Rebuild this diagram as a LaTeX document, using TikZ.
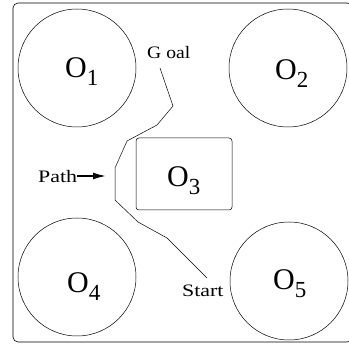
\documentclass[tikz,border=0pt]{standalone}
\usepackage{fontspec}
\setmainfont{Liberation Serif}
\usetikzlibrary{arrows.meta}
\newcommand{\olab}[1]{{\fontsize{30}{30}\selectfont O}\raisebox{-8pt}{\fontsize{23}{23}\selectfont #1}}
\newcommand{\wtxt}[2]{\scalebox{#1}[1]{\fontsize{17.5}{17.5}\selectfont #2}}
\begin{document}
\begin{tikzpicture}[x=1pt,y=-1pt,
  obst/.style={draw, circle, minimum size=118pt, inner sep=0pt, line width=0.5pt},
  olabel/.style={anchor=base west, inner sep=0pt},
  lbl/.style={anchor=base west, inner sep=0pt},
  pathline/.style={line width=0.5pt}]
\useasboundingbox (0,0) rectangle (349,345);
\draw[line width=0.6pt, rounded corners=5pt] (13,3) rectangle (352,342);
\node[obst] (o1) at (77,68) {};
\node[obst] (o2) at (288,68) {};
\node[obst] (o4) at (77,277) {};
\node[obst] (o5) at (289,281) {};
\node[draw, rounded corners=3pt, minimum width=96pt, minimum height=72pt, line width=0.5pt] (o3) at (184,174) {};
\node[olabel] (l1) at (65,78) {\olab{1}};
\node[olabel] (l2) at (275,80) {\olab{2}};
\node[olabel] (l3) at (167,187) {\olab{3}};
\node[olabel] (l4) at (67,293) {\olab{4}};
\node[olabel] (l5) at (273,290) {\olab{5}};
\node[lbl] (goal) at (147,59) {\wtxt{1.12}{G oal}};
\node[lbl] (start) at (182,297) {\wtxt{1.25}{Start}};
\node[lbl] (path) at (38,183) {\wtxt{1.25}{Path}};
\coordinate (pt) at (106,176);
\draw[pathline] (160,68) -- (173,106) -- (157,125) -- (127,141) -- (115,168) -- (115,200) -- (138,222) -- (167,238) -- (207,278);
\draw[-{Latex[length=13pt,width=7pt]}, line width=1.6pt] (path.east |- pt) -- (pt);
\end{tikzpicture}
\end{document}
